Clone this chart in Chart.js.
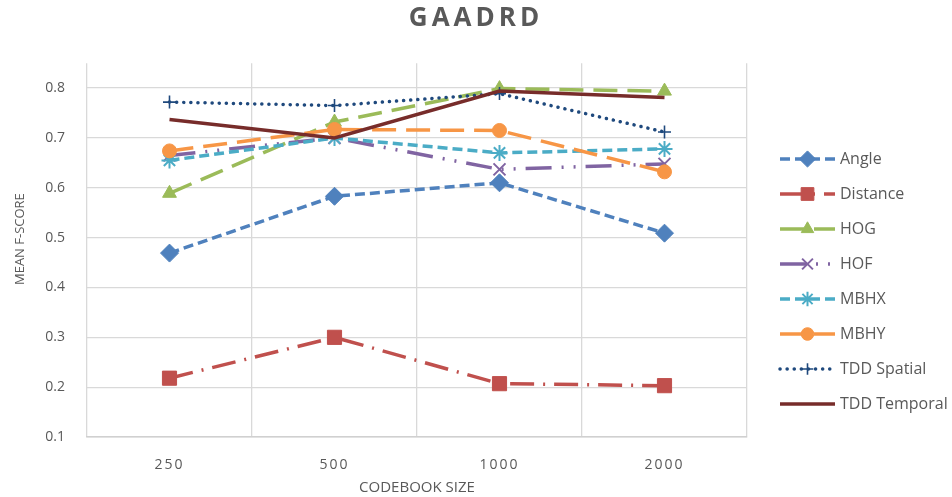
<!DOCTYPE html>
<html>
<head>
<meta charset="utf-8">
<title>GAADRD</title>
<script src="https://cdn.jsdelivr.net/npm/chart.js@4.4.0/dist/chart.umd.min.js"></script>
<style>
  html, body { margin: 0; padding: 0; background: #fff; }
</style>
</head>
<body>
<canvas id="myChart" width="952" height="497"></canvas>
<script>
const codebookSizes = ['250', '500', '1000', '2000'];
const seriesNames = ['Angle', 'Distance', 'HOG', 'HOF', 'MBHX', 'MBHY', 'TDD Spatial', 'TDD Temporal'];

const angle = [0.469, 0.583, 0.61, 0.509];
const distance = [0.218, 0.3, 0.207, 0.203];
const hog = [0.589, 0.732, 0.799, 0.794];
const hof = [0.665, 0.7, 0.637, 0.648];
const mbhx = [0.655, 0.7, 0.67, 0.678];
const mbhy = [0.674, 0.717, 0.715, 0.632];
const tddSpatial = [0.772, 0.765, 0.789, 0.712];
const tddTemporal = [0.737, 0.7, 0.794, 0.781];

const textColor = '#595959';
const font = '"Open Sans", "DejaVu Sans", sans-serif';

// colour, dash, marker for each series (same order as seriesNames)
const looks = [
  { color: '#4F81BD', dash: [10, 5], point: 'rectRot', r: 9 },
  { color: '#C0504D', dash: [24, 9, 2, 9], point: 'rect', r: 10 },
  { color: '#9BBB59', dash: [24, 10], point: 'triangle', r: 8 },
  { color: '#8064A2', dash: [26, 10, 2, 10, 2, 10], point: 'crossRot', r: 8.5, bw: 2 },
  { color: '#4BACC6', dash: [10, 5], point: 'star', r: 8, bw: 2 },
  { color: '#F79646', dash: [24, 10], point: 'circle', r: 7 },
  { color: '#1F497D', dash: [0.1, 7], point: 'cross', r: 6.5, bw: 1.6, cap: 'round' },
  { color: '#772C2A', dash: [], point: 'circle', r: 0 },
];
const values = [angle, distance, hog, hof, mbhx, mbhy, tddSpatial, tddTemporal];

const datasets = seriesNames.map((name, i) => ({
  label: name,
  data: values[i],
  borderColor: looks[i].color,
  backgroundColor: looks[i].color,
  borderWidth: 3.5,
  borderDash: looks[i].dash,
  borderCapStyle: looks[i].cap || 'butt',
  pointStyle: looks[i].point,
  pointRadius: looks[i].r,
  pointHoverRadius: looks[i].r,
  pointBackgroundColor: looks[i].color,
  pointBorderColor: looks[i].color,
  pointBorderWidth: looks[i].bw || 1,
  tension: 0,
  fill: false,
  order: seriesNames.length - i,
}));

// wrap a box's draw method: letter spacing and/or a small shift
function tweak(obj, method, spacing, dy) {
  if (!obj || obj['_tw_' + method]) return;
  const orig = obj[method];
  obj[method] = function (...args) {
    const c = this.ctx;
    c.save();
    if (spacing) c.letterSpacing = spacing;
    if (dy) c.translate(0, dy);
    orig.apply(this, args);
    c.restore();
  };
  obj['_tw_' + method] = true;
}

const tweakPlugin = {
  id: 'tweak',
  beforeDraw(chart) {
    tweak(chart.titleBlock, 'draw', '4px', 0);
    tweak(chart.scales.x, 'drawLabels', '2px', 0);
    tweak(chart.scales.y, 'drawTitle', null, -11);
  }
};

const sideLegend = {
  id: 'sideLegend',
  afterDraw(chart) {
    const ctx = chart.ctx;
    const x0 = chart.chartArea.right + 33;
    chart.data.datasets.forEach((ds, i) => {
      const y = 159 + i * 35;
      ctx.save();
      ctx.strokeStyle = ds.borderColor;
      ctx.lineWidth = ds.borderWidth;
      ctx.lineCap = ds.borderCapStyle;
      ctx.setLineDash(ds.borderDash);
      ctx.beginPath();
      ctx.moveTo(x0, y);
      ctx.lineTo(x0 + 55, y);
      ctx.stroke();
      ctx.setLineDash([]);
      ctx.lineCap = 'butt';
      if (ds.pointRadius > 0) {
        ctx.fillStyle = ds.pointBackgroundColor;
        ctx.strokeStyle = ds.pointBorderColor;
        ctx.lineWidth = ds.pointBorderWidth;
        Chart.helpers.drawPoint(ctx, {
          pointStyle: ds.pointStyle,
          radius: ds.pointRadius * 0.9,
          borderWidth: ds.pointBorderWidth,
          rotation: 0
        }, x0 + 27.5, y);
      }
      ctx.fillStyle = textColor;
      ctx.font = '16px ' + font;
      ctx.textAlign = 'left';
      ctx.textBaseline = 'middle';
      ctx.fillText(ds.label, x0 + 60, y);
      ctx.restore();
    });
  }
};

const ctx = document.getElementById('myChart').getContext('2d');
const myChart = new Chart(ctx, {
  type: 'line',
  data: {
    labels: codebookSizes,
    datasets: datasets
  },
  options: {
    responsive: false,
    animation: false,
    events: [],
    layout: {
      padding: 0
    },
    plugins: {
      legend: { display: false },
      tooltip: { enabled: false },
      title: {
        display: true,
        text: 'GAADRD',
        color: textColor,
        font: { family: font, size: 26, weight: 'bold' },
        padding: { top: 3, bottom: 29 }
      }
    },
    scales: {
      x: {
        offset: true,
        grid: { offset: true, color: '#d9d9d9', lineWidth: 1.3, drawTicks: false },
        border: { display: true, color: '#d0d0d0', width: 1.5 },
        ticks: { color: textColor, font: { family: font, size: 14 }, padding: 19.6 },
        title: {
          display: true,
          text: 'CODEBOOK SIZE',
          color: textColor,
          font: { family: font, size: 15 },
          padding: { top: 0, bottom: 0.5 }
        },
        afterFit(scale) { scale.height = 60; }
      },
      y: {
        min: 0.1,
        max: 0.85,
        grid: { color: '#d9d9d9', lineWidth: 1.3, drawTicks: false },
        border: { display: false },
        ticks: {
          stepSize: 0.1,
          includeBounds: false,
          color: textColor,
          font: { family: font, size: 14 },
          padding: 22,
          callback: v => v.toFixed(1)
        },
        title: {
          display: true,
          text: 'MEAN F-SCORE',
          color: textColor,
          font: { family: font, size: 13 },
          padding: { top: 12, bottom: 0 }
        },
        afterFit(scale) { scale.width = 87; }
      },
      // empty right-hand axis that keeps room for the legend
      legendRoom: {
        type: 'linear',
        axis: 'y',
        position: 'right',
        grid: { display: false },
        border: { display: false },
        ticks: { display: false },
        afterFit(scale) { scale.width = 205; }
      }
    }
  },
  plugins: [tweakPlugin, sideLegend]
});
</script>
</body>
</html>
